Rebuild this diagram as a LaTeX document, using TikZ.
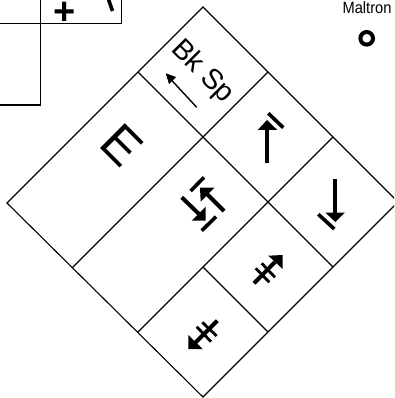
\documentclass[tikz,border=0pt]{standalone}
\usepackage{fontspec}
\setmainfont{Liberation Sans}
\newcommand{\fsz}[1]{\fontsize{#1}{#1}\selectfont}
\tikzset{
  rule/.style={line width=1.1pt,black},
  boxrule/.style={line width=1.1pt,black},
  heavy/.style={line width=4pt,black},
  tick/.style={line width=3.6pt,black},
  tick2/.style={line width=2.8pt,black},
  head/.style={fill=black,draw=none},
  lbl/.style={inner sep=0pt,outer sep=0pt,text=black}
}
\begin{document}
\begin{tikzpicture}[x=1pt,y=-1pt]
\useasboundingbox (0,0) rectangle (394,398);
\clip (0,0) rectangle (394,398);
% partial key box at top left
\draw[boxrule] (0,23.3) -- (122,23.3);
\draw[boxrule] (121.5,0) -- (121.5,24);
\draw[boxrule] (40.5,0) -- (40.5,105) -- (0,105);
\node[lbl] (plus) at (65,13) {\fsz{38}\bfseries +};
\draw[tick] (108,-2) -- (112.5,11);
% label and mark at top right
\node[lbl,xscale=0.9] (maltron) at (367,7.5) {\fsz{16.3}Maltron};
\draw[line width=4pt] (366.7,38.3) circle (6.3);
% outer diamond and cell lines
\coordinate (T) at (203,7);
\coordinate (R) at (398,202);
\coordinate (B) at (203,397);
\coordinate (L) at (7,203);
\draw[rule,line join=miter] (T) -- (R) -- (B) -- (L) -- cycle;
\draw[rule] (138,72) -- (333,267);
\draw[rule] (268,72) -- (72,268);
\draw[rule] (333,137) -- (138,332);
\draw[rule] (203,267) -- (268,332);
% labels
\node[lbl,rotate=-45] (bksp) at (202.4,71.8) {\fsz{28.5}Bk Sp};
\node[lbl,rotate=-45] (e) at (122,145) {\fsz{51}E};
% back-space arrow
\draw[line width=1.4pt] (196.7,107.3) -- (170,78.5);
\path[head] (165.7,73.3) -- (176,77) -- (169,84) -- cycle;
% up arrow with bar
\draw[heavy] (267,163.3) -- (267,128);
\path[head] (267,120) -- (277.3,130) -- (257.7,130) -- cycle;
\draw[tick] (268.3,113.3) -- (283.3,127.7);
% down arrow with bar
\draw[heavy] (335.3,179) -- (335.3,214);
\path[head] (335.3,222) -- (325.3,212.5) -- (345,212.5) -- cycle;
\draw[tick] (318.3,214.3) -- (334.3,229);
% centre pair of arrows
\draw[tick] (190.7,191) -- (204,177.3);
\draw[heavy] (224,211) -- (205,192);
\path[head] (200,187.7) -- (214.3,187.7) -- (200.7,201.7) -- cycle;
\draw[heavy] (181.7,197.3) -- (200,215);
\path[head] (205.7,220.7) -- (191.7,220.7) -- (205.7,206.7) -- cycle;
\draw[tick] (201.7,230.7) -- (216,216.7);
% crossed arrow, up-right
\draw[heavy] (254,283.3) -- (275,262);
\path[head] (282.7,255) -- (268.3,255.7) -- (282.7,269) -- cycle;
\draw[tick2] (255.7,268.3) -- (269.3,282.3);
\draw[tick2] (261.7,263.3) -- (275,277.3);
% crossed arrow, down-left
\draw[heavy] (217.3,320.7) -- (195,343);
\path[head] (188.3,349) -- (188.3,335) -- (202.7,349) -- cycle;
\draw[tick2] (196.7,326.7) -- (211,341.7);
\draw[tick2] (202.3,322.3) -- (216.7,336);
\end{tikzpicture}
\end{document}
